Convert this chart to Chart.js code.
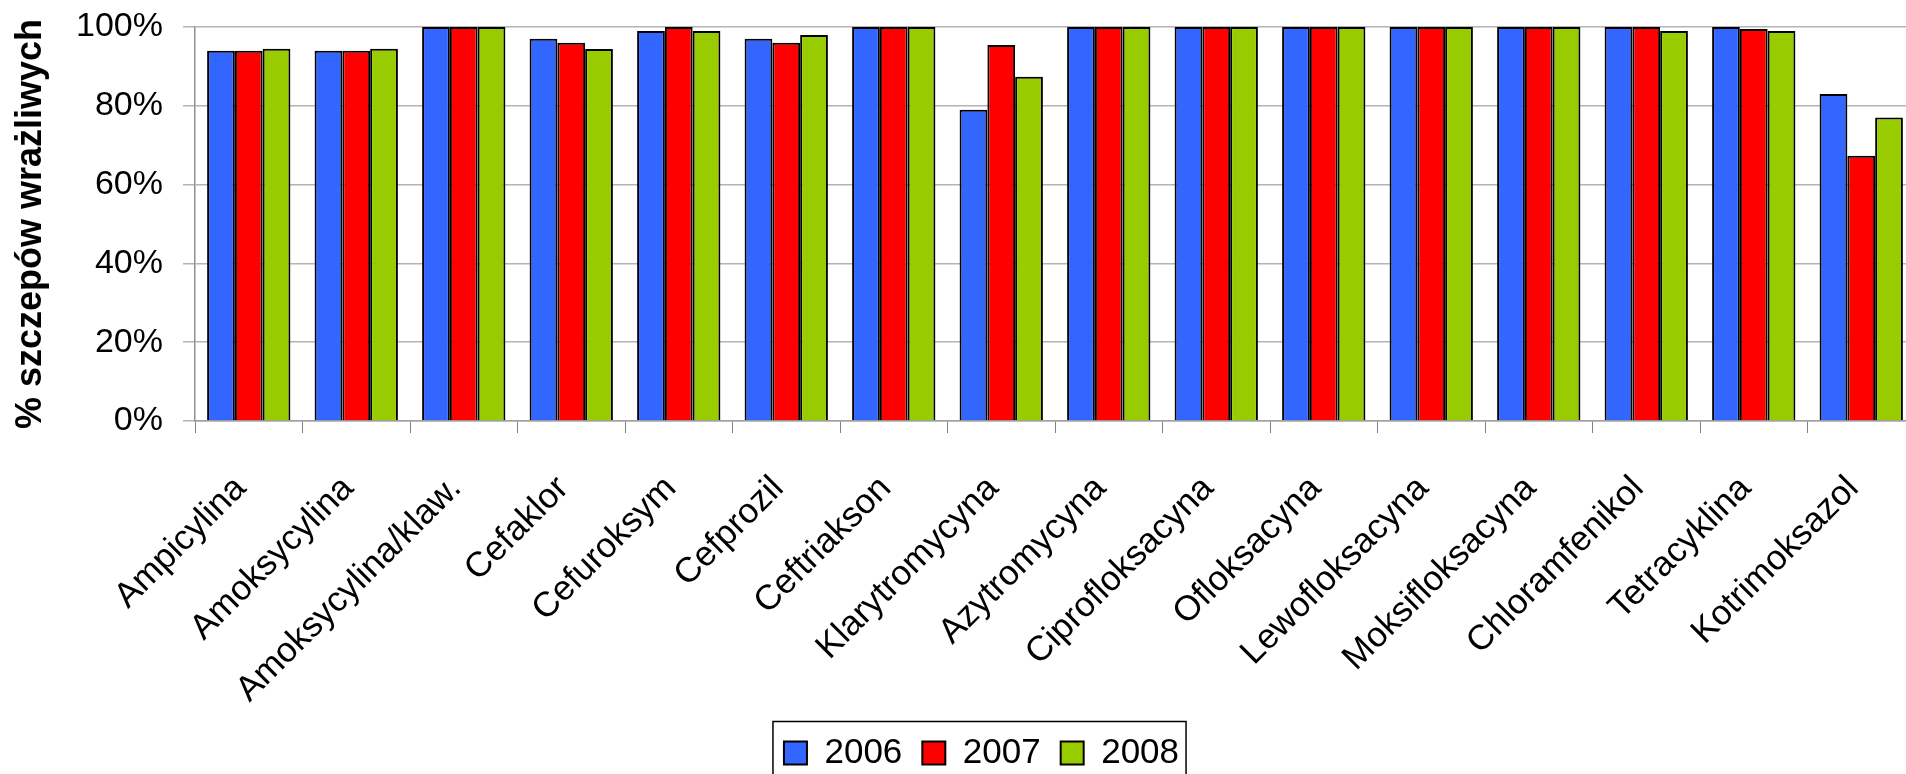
<!DOCTYPE html>
<html>
<head>
<meta charset="utf-8">
<script src="https://cdn.jsdelivr.net/npm/chart.js@4/dist/chart.umd.min.js"></script>
<style>
  html, body { margin: 0; padding: 0; background: #fff; overflow: hidden; }
  #wrap { position: absolute; left: 0; top: 0; width: 1963px; height: 800px; }
</style>
</head>
<body>
<div id="wrap"><canvas id="c" width="1963" height="800"></canvas></div>
<script>
const categories = ["Ampicylina", "Amoksycylina", "Amoksycylina/klaw.", "Cefaklor", "Cefuroksym", "Cefprozil", "Ceftriakson", "Klarytromycyna", "Azytromycyna", "Ciprofloksacyna", "Ofloksacyna", "Lewofloksacyna", "Moksifloksacyna", "Chloramfenikol", "Tetracyklina", "Kotrimoksazol"];
const seriesNames = ["2006", "2007", "2008"];
const values2006 = [94, 94, 100, 97, 99, 97, 100, 79, 100, 100, 100, 100, 100, 100, 100, 83];
const values2007 = [94, 94, 100, 96, 100, 96, 100, 95.4, 100, 100, 100, 100, 100, 100, 99.5, 67.3];
const values2008 = [94.5, 94.5, 100, 94.4, 99, 98, 100, 87.4, 100, 100, 100, 100, 100, 99, 99, 77];
const yTicks = [0, 20, 40, 60, 80, 100];
const yTitle = "% szczepów wrażliwych";
const colors = ["#3366FF", "#FF0000", "#99CC00"];

const FONT = "'Liberation Sans', Arial, sans-serif";

const legendFrame = {
  id: 'legendFrame',
  afterDraw(chart) {
    const lg = chart.legend;
    if (!lg || !lg.legendHitBoxes || !lg.legendHitBoxes.length) return;
    const hb = lg.legendHitBoxes;
    const first = hb[0], last = hb[hb.length - 1];
    const ctx = chart.ctx;
    ctx.save();
    ctx.strokeStyle = '#000';
    ctx.lineWidth = 1.5;
    const x0 = first.left - 11, x1 = last.left + last.width + 7;
    const y0 = first.top - 14;
    ctx.strokeRect(x0, y0, x1 - x0, 120);
    ctx.restore();
  }
};

new Chart(document.getElementById('c'), {
  type: 'bar',
  data: {
    labels: categories,
    datasets: [values2006, values2007, values2008].map((d, i) => ({
      label: seriesNames[i],
      data: d,
      backgroundColor: colors[i],
      borderColor: '#000',
      borderWidth: 2,
      categoryPercentage: 0.775,
      barPercentage: 1.0
    }))
  },
  options: {
    responsive: false,
    devicePixelRatio: 1,
    animation: false,
    layout: { autoPadding: false, padding: { left: 48, right: 48, top: 27, bottom: 19.5 } },
    plugins: {
      tooltip: { enabled: false },
      legend: {
        position: 'bottom',
        labels: {
          color: '#000',
          font: { family: FONT, size: 35 },
          boxWidth: 23,
          boxHeight: 23,
          padding: 20
        }
      }
    },
    scales: {
      x: {
        grid: { display: true, drawOnChartArea: false, drawTicks: true, tickLength: 12, color: '#808080', offset: true },
        border: { display: true, color: '#a0a0a0', width: 1.5 },
        ticks: {
          color: '#000',
          font: { family: FONT, size: 35 },
          autoSkip: false,
          maxRotation: 45,
          minRotation: 45,
          padding: 35,
          labelOffset: -8
        },
        afterFit(scale) { scale.height = 294.5; }
      },
      y: {
        min: 0,
        max: 100,
        afterBuildTicks(scale) { scale.ticks = yTicks.map(v => ({ value: v })); },
        grid: { color: '#b4b4b4', lineWidth: 1.5, tickLength: 12, drawTicks: true },
        border: { display: true, color: '#909090', width: 1.5 },
        ticks: {
          color: '#000',
          font: { family: FONT, size: 34, lineHeight: 0.4 },
          padding: 20,
          callback: v => v + '%'
        },
        title: {
          display: true,
          text: yTitle,
          color: '#000',
          font: { family: FONT, size: 36, weight: 'bold' },
          padding: { top: -38.6, bottom: 0 }
        },
        afterFit(scale) { scale.width = 147; }
      }
    }
  },
  plugins: [legendFrame]
});
</script>
</body>
</html>
